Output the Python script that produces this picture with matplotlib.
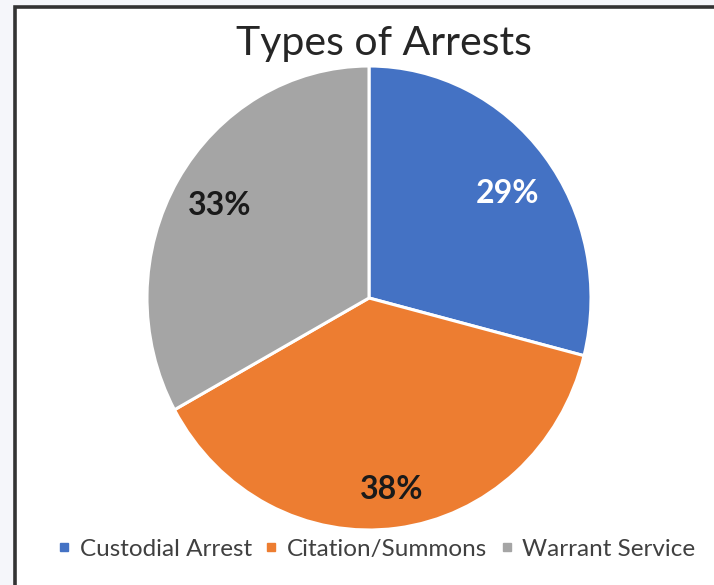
import matplotlib
matplotlib.use("Agg")
import matplotlib.pyplot as plt
from matplotlib.patches import Rectangle
from matplotlib.lines import Line2D
import numpy as np

categories = ["Custodial Arrest", "Citation/Summons", "Warrant Service"]
values = [29, 38, 33]
colors = ["#4472C4", "#ED7D31", "#A5A5A5"]
label_colors = ["white", "#1a1a1a", "#1a1a1a"]
label_r = [0.77, 0.83, 0.78]
title = "Types of Arrests"

plt.rcParams["font.family"] = ["Lato", "DejaVu Sans"]

W, H = 714, 585
fig = plt.figure(figsize=(W / 100, H / 100), dpi=100, facecolor="#f5f6fa")

# white card with dark border (left/top edges visible)
card = Rectangle((14.5 / W, -0.1), 1.2, 1 - 7.5 / H + 0.1,
                 transform=fig.transFigure, facecolor="white",
                 edgecolor="#333333", linewidth=2.6, zorder=-10)
fig.patches.append(card)

cx, cy, rx, ry = 369, 298, 222, 232
ax = fig.add_axes([(cx - rx) / W, (H - cy - ry) / H, 2 * rx / W, 2 * ry / H])
wedges, _ = ax.pie(values, colors=colors, startangle=90, counterclock=False,
                   wedgeprops=dict(edgecolor="white", linewidth=2.2))
ax.set_aspect("auto")
ax.set_xlim(-1, 1)
ax.set_ylim(-1, 1)
ax.axis("off")

total = sum(values)
for w, v, r, c in zip(wedges, values, label_r, label_colors):
    ang = np.deg2rad((w.theta1 + w.theta2) / 2 - (2 if v == 29 else 0))
    ax.text(r * np.cos(ang), r * np.sin(ang), f"{round(100 * v / total)}%",
            ha="center", va="center", fontsize=23, fontweight="bold", color=c)

fig.text(384 / W, 1 - 44 / H, title, ha="center", va="center",
         fontsize=29.5, color="#262626")

handles = [Line2D([], [], linestyle="none", marker="s", markersize=6,
                  markerfacecolor=c, markeredgecolor=c) for c in colors]
fig.legend(handles, categories, loc="center", bbox_to_anchor=(376 / W, 1 - 549 / H),
           ncol=3, frameon=False, fontsize=17.5, handlelength=0.6,
           handletextpad=0.35, columnspacing=0.5, labelcolor="#404040")

fig.savefig("out.png", dpi=100, facecolor=fig.get_facecolor())
